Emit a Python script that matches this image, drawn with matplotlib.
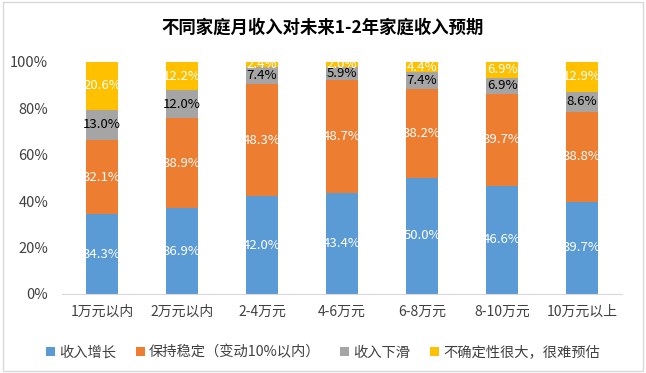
import matplotlib
matplotlib.use("Agg")
import matplotlib.pyplot as plt
from matplotlib.patches import Rectangle
import numpy as np

plt.rcParams['font.family'] = ['Noto Sans CJK SC', 'DejaVu Sans']

categories = ["1万元以内", "2万元以内", "2-4万元", "4-6万元", "6-8万元", "8-10万元", "10万元以上"]
series_names = ["收入增长", "保持稳定（变动10%以内）", "收入下滑", "不确定性很大，很难预估"]
increase = [34.3, 36.9, 42.0, 43.4, 50.0, 46.6, 39.7]
stable = [32.1, 38.9, 48.3, 48.7, 38.2, 39.7, 38.8]
decrease = [13.0, 12.0, 7.4, 5.9, 7.4, 6.9, 8.6]
uncertain = [20.6, 12.2, 2.4, 2.0, 4.4, 6.9, 12.9]
yticks = [0, 20, 40, 60, 80, 100]
ytick_labels = ["0%", "20%", "40%", "60%", "80%", "100%"]

series = [increase, stable, decrease, uncertain]
colors = ["#5B9BD5", "#ED7D31", "#A5A5A5", "#FFC000"]
label_colors = ["white", "white", "black", "white"]

fig = plt.figure(figsize=(6.46, 3.73), dpi=100)
ax = fig.add_axes([0.096, 0.212, 0.867, 0.622])

x = np.arange(len(categories))
bottom = np.zeros(len(categories))
handles = []
for vals, c, lc, name in zip(series, colors, label_colors, series_names):
    v = np.array(vals)
    h = ax.bar(x, v, 0.4, bottom=bottom, color=c, label=name)
    handles.append(h)
    for xi, b, vi in zip(x, bottom, v):
        ax.text(xi, b + vi / 2, f"{vi:.1f}%", ha="center", va="center",
                color=lc, fontsize=9.5)
    bottom = bottom + v

ax.set_xlim(-0.5, len(categories) - 0.5)
ax.set_ylim(0, 100)
ax.set_yticks(yticks)
ax.set_yticklabels(ytick_labels, fontsize=10.5)
ax.set_xticks(x)
ax.set_xticklabels(categories, fontsize=10)
ax.tick_params(axis='both', length=0, colors='#404040')
ax.tick_params(axis='x', pad=8)
ax.tick_params(axis='y', pad=10)
for s in ["top", "right", "left"]:
    ax.spines[s].set_visible(False)
ax.spines["bottom"].set_color("#D9D9D9")

fig.text(0.5, 0.925, "不同家庭月收入对未来1-2年家庭收入预期", ha="center", va="center",
         fontsize=12.5, fontweight="bold", color="black")

fig.legend(handles=handles, labels=series_names, loc="center", bbox_to_anchor=(0.5, 0.055),
           ncol=4, frameon=False, fontsize=10.3, handlelength=0.6, handleheight=0.6,
           handletextpad=0.3, columnspacing=1.4, labelcolor="#404040")

fig.add_artist(Rectangle((0.004, 0.005), 0.992, 0.99, transform=fig.transFigure,
                         fill=False, edgecolor="#D9D9D9", linewidth=1))

fig.savefig("out.png", dpi=100)
